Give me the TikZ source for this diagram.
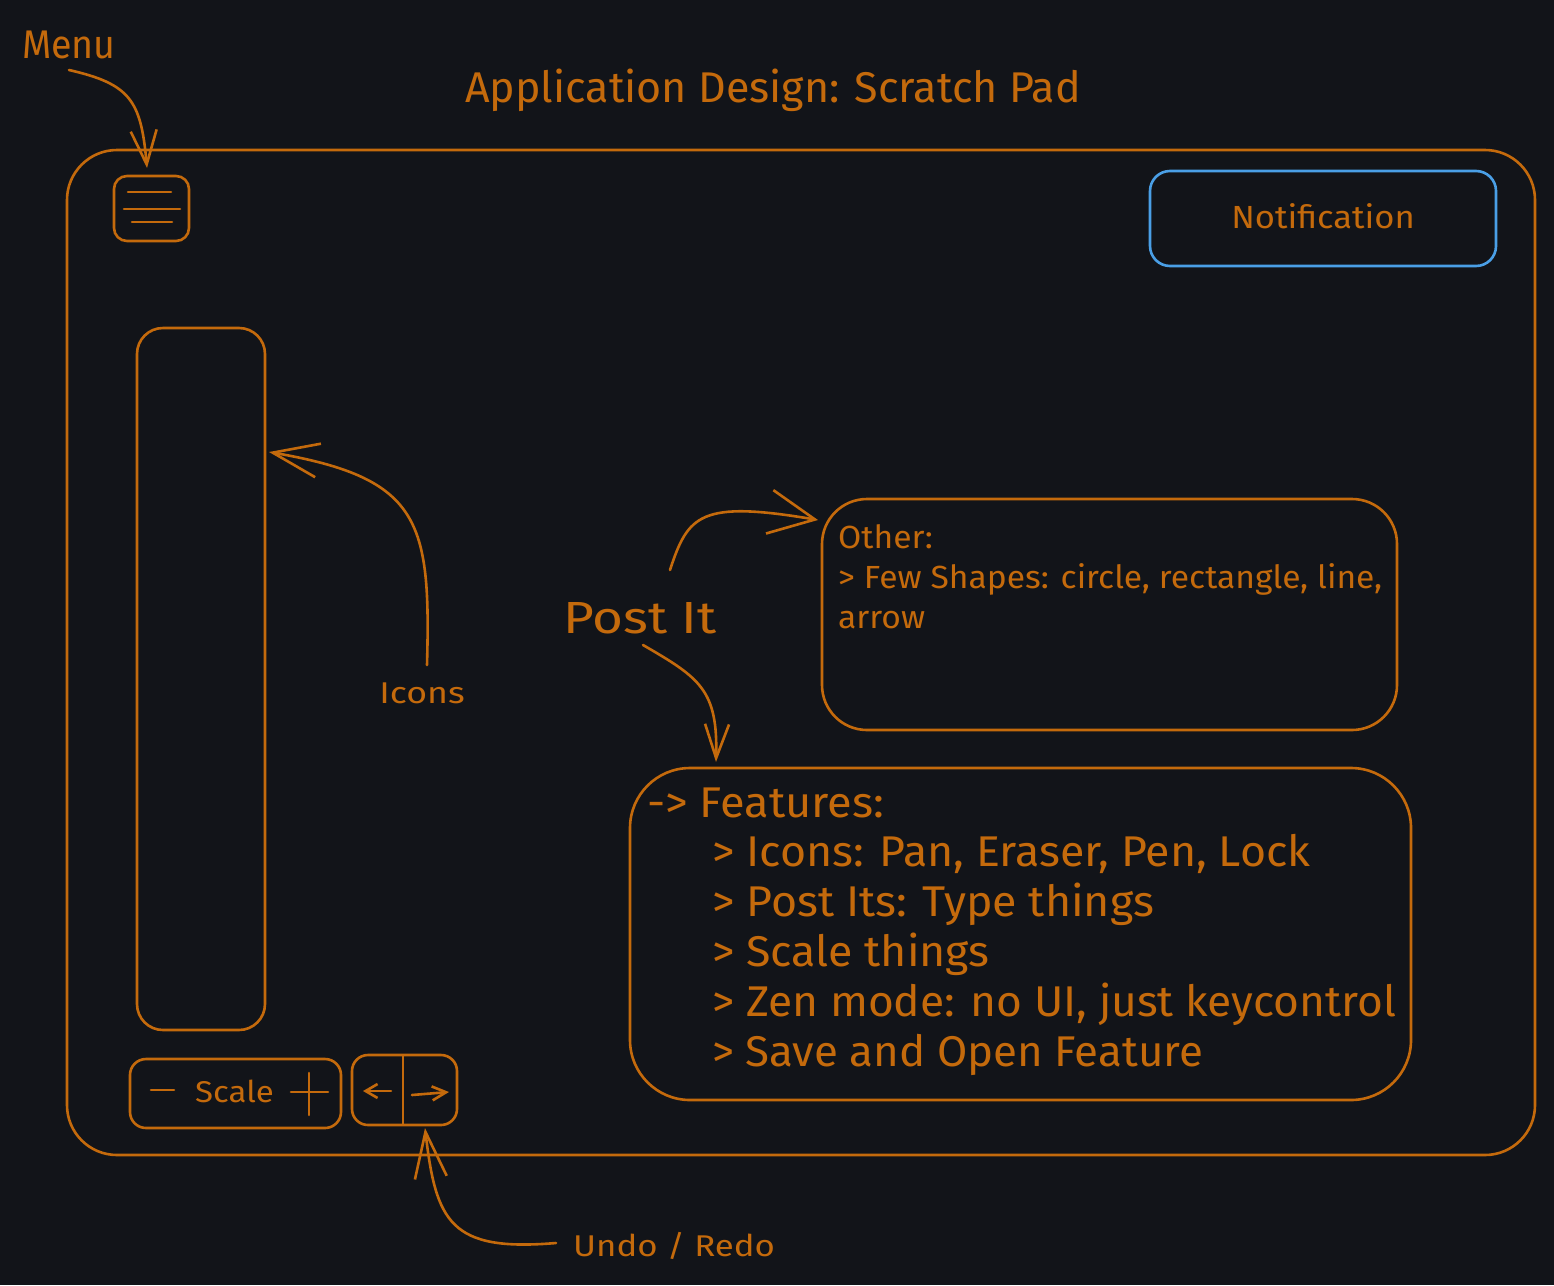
\documentclass[tikz,border=0pt]{standalone}
\usepackage{fontspec}
\setmainfont{Fira Sans}
\usetikzlibrary{arrows.meta}
\definecolor{bg}{HTML}{121419}
\definecolor{org}{HTML}{C46A0C}
\definecolor{blu}{HTML}{4A9FE6}
\newcommand{\sxw}[2]{\scalebox{#1}[1]{#2}}
\tikzset{
  sk/.style={draw=org, line width=2.6pt, line cap=round, line join=round},
  boxnode/.style={sk, inner sep=0pt, rounded corners=#1},
  lbl/.style={text=org, inner sep=0pt},
  big/.style={lbl, font=\fontsize{43}{50}\selectfont},
  mid/.style={lbl, font=\fontsize{32}{38}\selectfont},
  sml/.style={lbl, font=\fontsize{30}{36}\selectfont},
  barb/.style n args={2}{sk, -{Straight Barb[length=#1, width=#2, line width=2.6pt]}}
}
\begin{document}
\begin{tikzpicture}[x=1pt,y=-1pt]
\fill[bg] (0,0) rectangle (1554,1285);
\useasboundingbox (0,0) rectangle (1554,1285);

% main window
\node[boxnode=50pt, minimum width=1468pt, minimum height=1005pt] (win) at (801,652.5) {};

% title
\node[big, anchor=base] (title) at (773,102) {Application Design: Scratch Pad};

% menu button
\node[boxnode=13pt, minimum width=75pt, minimum height=65pt] (menubtn) at (151.5,208.5) {};
\draw[sk] (128,192) -- (171,192);
\draw[sk] (124,209) -- (180,209);
\draw[sk] (132,222) -- (172,222);
\node[lbl, font=\fontsize{40}{48}\selectfont, anchor=base west] (menulbl) at (22,58) {\sxw{0.94}{Menu}};
\coordinate (m0) at (69,70);
\coordinate (m1) at (147,168);
\draw[barb={34pt}{26pt}] (m0) .. controls (130,84) and (141,100) .. (m1);

% notification
\node[draw=blu, line width=2.6pt, rounded corners=20pt, minimum width=346pt, minimum height=95pt, inner sep=0pt] (notif) at (1323,218.5) {};
\node[mid, anchor=base] (notiflbl) at (1323,228) {\sxw{1.08}{Notification}};

% toolbar
\node[boxnode=26pt, minimum width=128pt, minimum height=702pt] (toolbar) at (201,679) {};
\node[sml, anchor=base] (iconslbl) at (422,703) {\sxw{1.19}{Icons}};
\coordinate (i0) at (427,665);
\coordinate (i1) at (269,452);
\draw[barb={46pt}{34pt}] (i0) .. controls (431,520) and (420,478) .. (i1);

% post it
\node[lbl, font=\fontsize{45}{52}\selectfont, anchor=base] (postit) at (640,633) {\sxw{1.18}{Post It}};
\coordinate (p0) at (670,570);
\coordinate (p1) at (818,520);
\draw[barb={46pt}{44pt}] (p0) .. controls (688,515) and (700,500) .. (p1);
\coordinate (q0) at (643,645);
\coordinate (q1) at (716,762);
\draw[barb={34pt}{24pt}] (q0) .. controls (700,678) and (718,690) .. (q1);

% other box
\node[boxnode=45pt, minimum width=575pt, minimum height=231pt] (other) at (1109.5,614.5) {};
\node[mid, anchor=base west] (o1) at (838,548) {\sxw{1.05}{Other:}};
\node[mid, anchor=base west] (o2) at (838,588) {\sxw{1.05}{> Few Shapes: circle, rectangle, line,}};
\node[mid, anchor=base west] (o3) at (838,628) {\sxw{1.05}{arrow}};

% features box
\node[boxnode=60pt, minimum width=781pt, minimum height=332pt] (feat) at (1020.5,934) {};
\node[big, anchor=base west] (f0) at (647,817) {\sxw{1.05}{-> Features:}};
\node[big, anchor=base west] (f1) at (712,866) {\sxw{1.04}{> Icons: Pan, Eraser, Pen, Lock}};
\node[big, anchor=base west] (f2) at (712,916) {\sxw{1.04}{> Post Its: Type things}};
\node[big, anchor=base west] (f3) at (712,966) {\sxw{1.04}{> Scale things}};
\node[big, anchor=base west] (f4) at (712,1016) {\sxw{1.03}{> Zen mode: no UI, just keycontrol}};
\node[big, anchor=base west] (f5) at (712,1066) {\sxw{1.02}{> Save and Open Feature}};

% scale box
\node[boxnode=16pt, minimum width=211pt, minimum height=69pt] (scale) at (235.5,1093.5) {};
\draw[sk] (151,1090) -- (174,1090);
\node[sml, anchor=base] (scalelbl) at (234.5,1102) {\sxw{1.1}{Scale}};
\draw[sk] (291,1092) -- (328,1092);
\draw[sk] (309,1073) -- (309,1115);

% undo / redo box
\node[boxnode=16pt, minimum width=105pt, minimum height=70pt] (undo) at (404.5,1090) {};
\draw[sk] (403,1056) -- (403,1124);
\coordinate (ua) at (391,1091);
\coordinate (ub) at (363,1091);
\draw[barb={12pt}{14pt}] (ua) -- (ub);
\coordinate (ra) at (412,1095);
\coordinate (rb) at (449,1092);
\draw[barb={14pt}{14pt}] (ra) -- (rb);
\node[sml, anchor=base west] (undolbl) at (573,1256) {\sxw{1.16}{Undo / Redo}};
\coordinate (u0) at (556,1243);
\coordinate (u1) at (425,1128);
\draw[barb={46pt}{32pt}] (u0) .. controls (450,1252) and (436,1222) .. (u1);
\end{tikzpicture}
\end{document}
